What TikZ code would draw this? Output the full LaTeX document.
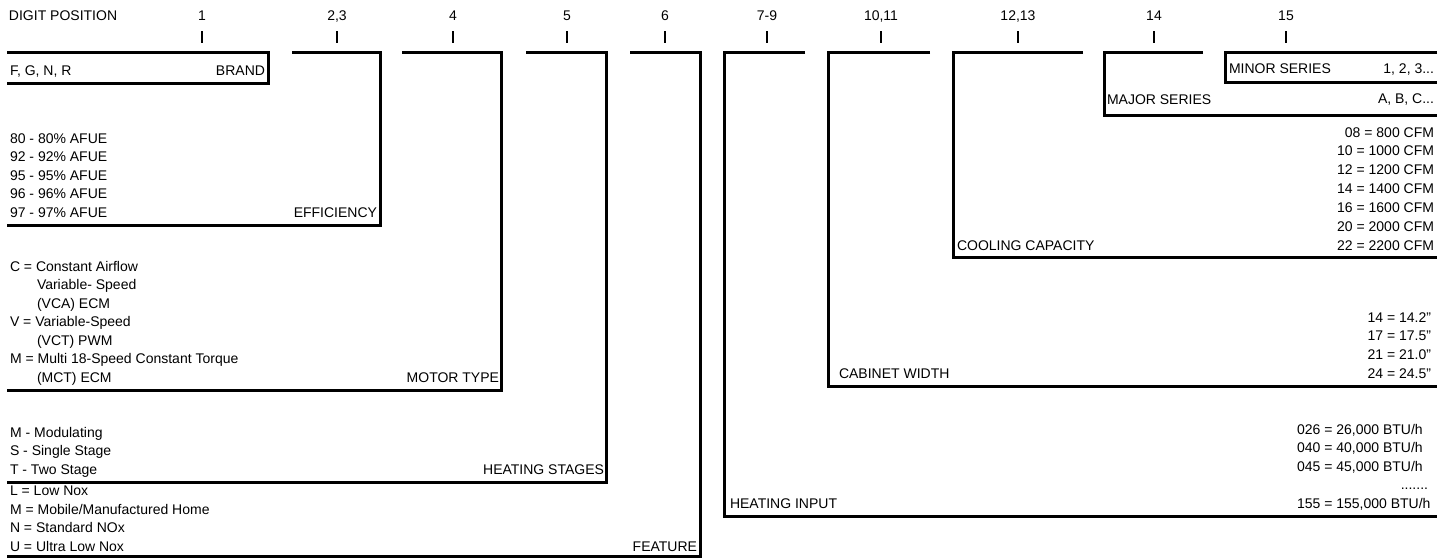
\documentclass[tikz,border=0pt]{standalone}
\usepackage{fontspec}
\setmainfont{Liberation Sans}
\newcommand{\inch}{\char34\relax}
\begin{document}
\begin{tikzpicture}[x=1pt,y=-1pt,
  bracket/.style={line width=3pt,line join=miter},
  tickline/.style={line width=2pt},
  txt/.style={inner sep=0pt,outer sep=0pt,font=\fontsize{14}{16}\selectfont},
  lt/.style={txt,anchor=base west},
  rt/.style={txt,anchor=base east},
  ct/.style={txt,anchor=base}]
\useasboundingbox (0,0) rectangle (1447,558);

% ---------- header ----------
\node[lt] (hdr) at (9,20) {DIGIT POSITION};
\node[ct] (d1)  at (202,20)  {1};
\node[ct] (d2)  at (337,20)  {2,3};
\node[ct] (d3)  at (453,20)  {4};
\node[ct] (d4)  at (567,20)  {5};
\node[ct] (d5)  at (665,20)  {6};
\node[ct] (d6)  at (767,20)  {7-9};
\node[ct] (d7)  at (881,20)  {10,11};
\node[ct] (d8)  at (1018,20) {12,13};
\node[ct] (d9)  at (1154,20) {14};
\node[ct] (d10) at (1286,20) {15};

% ticks
\foreach \i/\x in {1/202,2/337,3/453,4/567,5/665,6/767,7/881,8/1018,9/1154,10/1286}{
  \coordinate (ta\i) at (\x,31);
  \coordinate (tb\i) at (\x,43);
  \draw[tickline] (ta\i) -- (tb\i);
}

% ---------- brackets ----------
\draw[bracket] (7,52) -- (268,52) -- (268,83) -- (7,83);
\draw[bracket] (292,52) -- (380,52) -- (380,225) -- (7,225);
\draw[bracket] (402,52) -- (501,52) -- (501,390) -- (7,390);
\draw[bracket] (526,52) -- (606,52) -- (606,482) -- (7,482);
\draw[bracket] (630,52) -- (700,52) -- (700,556) -- (7,556);
\draw[bracket] (805,52) -- (724,52) -- (724,516) -- (1437,516);
\draw[bracket] (930,52) -- (828,52) -- (828,386) -- (1437,386);
\draw[bracket] (1083,52) -- (953,52) -- (953,257) -- (1437,257);
\draw[bracket] (1203,52) -- (1104,52) -- (1104,115) -- (1437,115);
\draw[bracket] (1437,52) -- (1225,52) -- (1225,82) -- (1437,82);

% ---------- brand ----------
\node[lt] (brandv) at (10,75) {F, G, N, R};
\node[rt] (brand) at (265,75) {BRAND};

% ---------- efficiency ----------
\node[lt] (e1) at (10,143)   {80 - 80\% AFUE};
\node[lt] (e2) at (10,161.5) {92 - 92\% AFUE};
\node[lt] (e3) at (10,180)   {95 - 95\% AFUE};
\node[lt] (e4) at (10,198.5) {96 - 96\% AFUE};
\node[lt] (e5) at (10,217)   {97 - 97\% AFUE};
\node[rt] (eff) at (377,217) {EFFICIENCY};

% ---------- motor type ----------
\node[lt] (m1) at (10,271)   {C = Constant Airflow};
\node[lt] (m2) at (37,289.5) {Variable- Speed};
\node[lt] (m3) at (37,308)   {(VCA) ECM};
\node[lt] (m4) at (10,326.5) {V = Variable-Speed};
\node[lt] (m5) at (37,345)   {(VCT) PWM};
\node[lt] (m6) at (10,363.5) {M = Multi 18-Speed Constant Torque};
\node[lt] (m7) at (37,382)   {(MCT) ECM};
\node[rt] (mot) at (499,382) {MOTOR TYPE};

% ---------- heating stages ----------
\node[lt] (h1) at (10,437)   {M - Modulating};
\node[lt] (h2) at (10,455.5) {S - Single Stage};
\node[lt] (h3) at (10,474)   {T - Two Stage};
\node[rt] (hs) at (604,474)  {HEATING STAGES};

% ---------- feature ----------
\node[lt] (f1) at (10,495.5) {L = Low Nox};
\node[lt] (f2) at (10,514)   {M = Mobile/Manufactured Home};
\node[lt] (f3) at (10,532.5) {N = Standard NOx};
\node[lt] (f4) at (10,551)   {U = Ultra Low Nox};
\node[rt] (feat) at (697,551) {FEATURE};

% ---------- heating input ----------
\node[lt] (hi) at (730,508) {HEATING INPUT};
\node[lt] (b1) at (1297,434)   {026 = 26,000 BTU/h};
\node[lt] (b2) at (1297,452.5) {040 = 40,000 BTU/h};
\node[lt] (b3) at (1297,471)   {045 = 45,000 BTU/h};
\node[rt] (b4) at (1428,489.5) {.......};
\node[lt] (b5) at (1297,508)   {155 = 155,000 BTU/h};

% ---------- cabinet width ----------
\node[lt] (cw) at (839,378) {CABINET WIDTH};
\node[rt] (w1) at (1431,322)   {14 = 14.2\inch};
\node[rt] (w2) at (1431,340.7) {17 = 17.5\inch};
\node[rt] (w3) at (1431,359.3) {21 = 21.0\inch};
\node[rt] (w4) at (1431,378)   {24 = 24.5\inch};

% ---------- cooling capacity ----------
\node[lt] (cc) at (957,250) {COOLING CAPACITY};
\node[rt] (c1) at (1434,137)   {08 = 800 CFM};
\node[rt] (c2) at (1434,155.8) {10 = 1000 CFM};
\node[rt] (c3) at (1434,174.7) {12 = 1200 CFM};
\node[rt] (c4) at (1434,193.5) {14 = 1400 CFM};
\node[rt] (c5) at (1434,212.3) {16 = 1600 CFM};
\node[rt] (c6) at (1434,231.2) {20 = 2000 CFM};
\node[rt] (c7) at (1434,250)   {22 = 2200 CFM};

% ---------- series ----------
\node[lt] (maj) at (1107,104) {MAJOR SERIES};
\node[rt] (majv) at (1434,103) {A, B, C...};
\node[lt] (min) at (1229,73) {MINOR SERIES};
\node[rt] (minv) at (1434,73) {1, 2, 3...};
\end{tikzpicture}
\end{document}
